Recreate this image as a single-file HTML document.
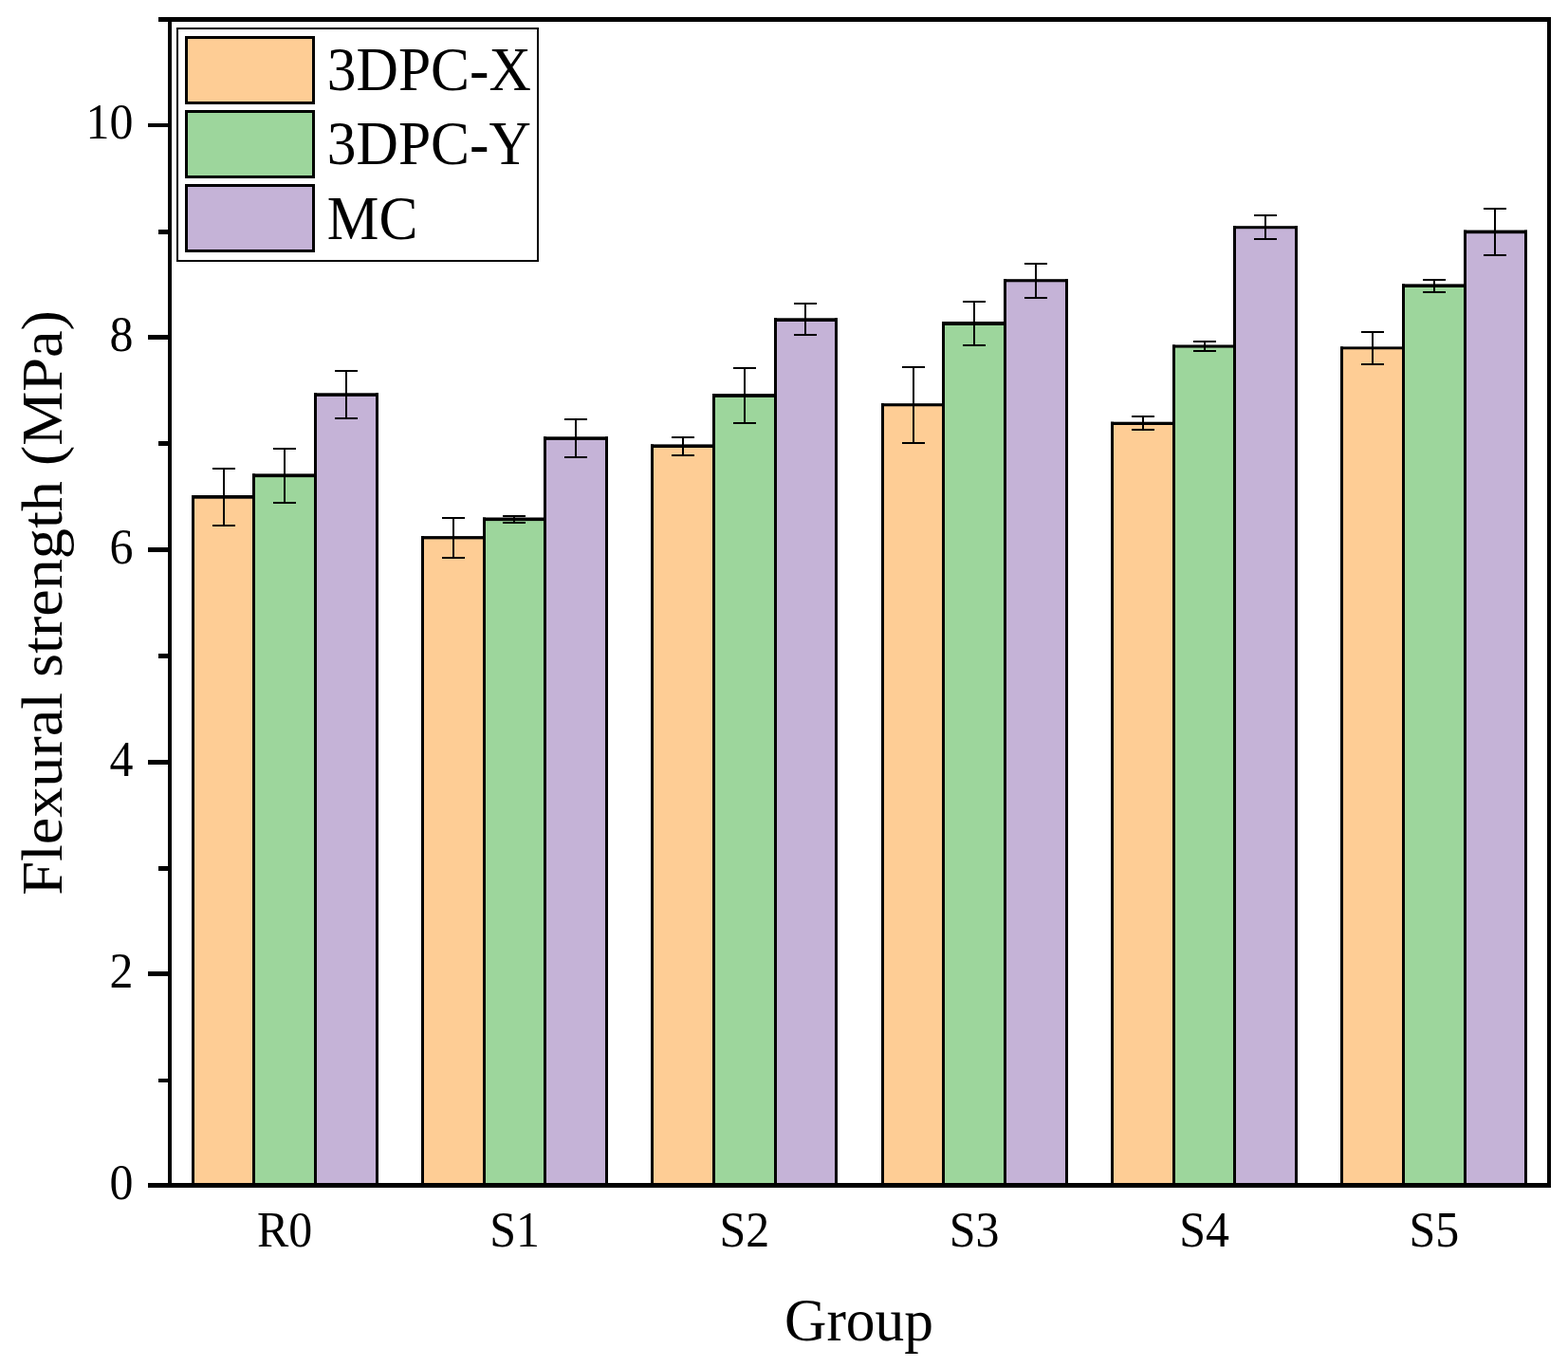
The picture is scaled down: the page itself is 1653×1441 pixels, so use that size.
<!DOCTYPE html><html><head><meta charset="utf-8"><title>Flexural strength</title>
<style>html,body{margin:0;padding:0;background:#fff;}body{width:1653px;height:1441px;overflow:hidden;}svg{display:block;}text{font-family:"Liberation Serif","Times New Roman",serif;fill:#000;}</style></head><body>
<svg width="1653" height="1441" viewBox="0 0 1653 1441">
<rect x="0" y="0" width="1653" height="1441" fill="#fff"/>
<rect x="203.50" y="525.20" width="64.00" height="724.30" fill="#FECD95"/>
<rect x="267.50" y="502.60" width="65.00" height="746.90" fill="#9DD69C"/>
<rect x="332.50" y="417.40" width="65.00" height="832.10" fill="#C5B3D7"/>
<rect x="202.00" y="522.00" width="3" height="727.50" fill="#000"/>
<rect x="266.00" y="499.40" width="3" height="750.10" fill="#000"/>
<rect x="331.00" y="414.30" width="3" height="835.20" fill="#000"/>
<rect x="396.00" y="414.30" width="3" height="835.20" fill="#000"/>
<rect x="202.00" y="522.00" width="67.00" height="3.70" fill="#000"/>
<rect x="266.00" y="499.40" width="68.00" height="3.70" fill="#000"/>
<rect x="331.00" y="414.30" width="68.00" height="3.60" fill="#000"/>
<rect x="445.50" y="567.90" width="65.00" height="681.60" fill="#FECD95"/>
<rect x="510.50" y="548.60" width="64.00" height="700.90" fill="#9DD69C"/>
<rect x="574.50" y="463.40" width="65.00" height="786.10" fill="#C5B3D7"/>
<rect x="444.00" y="565.10" width="3" height="684.40" fill="#000"/>
<rect x="509.00" y="545.50" width="3" height="704.00" fill="#000"/>
<rect x="573.00" y="460.30" width="3" height="789.20" fill="#000"/>
<rect x="638.00" y="460.30" width="3" height="789.20" fill="#000"/>
<rect x="444.00" y="565.10" width="68.00" height="3.30" fill="#000"/>
<rect x="509.00" y="545.50" width="67.00" height="3.60" fill="#000"/>
<rect x="573.00" y="460.30" width="68.00" height="3.60" fill="#000"/>
<rect x="687.50" y="471.50" width="65.00" height="778.00" fill="#FECD95"/>
<rect x="752.50" y="418.40" width="65.00" height="831.10" fill="#9DD69C"/>
<rect x="817.50" y="338.50" width="64.00" height="911.00" fill="#C5B3D7"/>
<rect x="686.00" y="468.40" width="3" height="781.10" fill="#000"/>
<rect x="751.00" y="415.10" width="3" height="834.40" fill="#000"/>
<rect x="816.00" y="335.30" width="3" height="914.20" fill="#000"/>
<rect x="880.00" y="335.30" width="3" height="914.20" fill="#000"/>
<rect x="686.00" y="468.40" width="68.00" height="3.60" fill="#000"/>
<rect x="751.00" y="415.10" width="68.00" height="3.80" fill="#000"/>
<rect x="816.00" y="335.30" width="67.00" height="3.70" fill="#000"/>
<rect x="930.50" y="427.80" width="64.00" height="821.70" fill="#FECD95"/>
<rect x="994.50" y="342.50" width="65.00" height="907.00" fill="#9DD69C"/>
<rect x="1059.50" y="296.80" width="65.00" height="952.70" fill="#C5B3D7"/>
<rect x="929.00" y="425.20" width="3" height="824.30" fill="#000"/>
<rect x="993.00" y="339.00" width="3" height="910.50" fill="#000"/>
<rect x="1058.00" y="294.20" width="3" height="955.30" fill="#000"/>
<rect x="1123.00" y="294.20" width="3" height="955.30" fill="#000"/>
<rect x="929.00" y="425.20" width="67.00" height="3.10" fill="#000"/>
<rect x="993.00" y="339.00" width="68.00" height="4.00" fill="#000"/>
<rect x="1058.00" y="294.20" width="68.00" height="3.10" fill="#000"/>
<rect x="1172.50" y="447.50" width="65.00" height="802.00" fill="#FECD95"/>
<rect x="1237.50" y="366.10" width="64.00" height="883.40" fill="#9DD69C"/>
<rect x="1301.50" y="240.70" width="65.00" height="1008.80" fill="#C5B3D7"/>
<rect x="1171.00" y="444.70" width="3" height="804.80" fill="#000"/>
<rect x="1236.00" y="363.50" width="3" height="886.00" fill="#000"/>
<rect x="1300.00" y="238.20" width="3" height="1011.30" fill="#000"/>
<rect x="1365.00" y="238.20" width="3" height="1011.30" fill="#000"/>
<rect x="1171.00" y="444.70" width="68.00" height="3.30" fill="#000"/>
<rect x="1236.00" y="363.50" width="67.00" height="3.10" fill="#000"/>
<rect x="1300.00" y="238.20" width="68.00" height="3.00" fill="#000"/>
<rect x="1414.50" y="367.80" width="65.00" height="881.70" fill="#FECD95"/>
<rect x="1479.50" y="302.50" width="65.00" height="947.00" fill="#9DD69C"/>
<rect x="1544.50" y="245.70" width="64.00" height="1003.80" fill="#C5B3D7"/>
<rect x="1413.00" y="365.40" width="3" height="884.10" fill="#000"/>
<rect x="1478.00" y="299.40" width="3" height="950.10" fill="#000"/>
<rect x="1543.00" y="242.60" width="3" height="1006.90" fill="#000"/>
<rect x="1607.00" y="242.60" width="3" height="1006.90" fill="#000"/>
<rect x="1413.00" y="365.40" width="68.00" height="2.90" fill="#000"/>
<rect x="1478.00" y="299.40" width="68.00" height="3.60" fill="#000"/>
<rect x="1543.00" y="242.60" width="67.00" height="3.60" fill="#000"/>
<g stroke="#000" stroke-width="2" fill="none">
<path d="M236.00 494.00V554.00M224.00 494.00H248.00M224.00 554.00H248.00"/>
<path d="M300.00 473.00V530.00M288.00 473.00H312.00M288.00 530.00H312.00"/>
<path d="M365.00 391.00V441.00M353.00 391.00H377.00M353.00 441.00H377.00"/>
<path d="M478.00 546.00V588.00M466.00 546.00H490.00M466.00 588.00H490.00"/>
<path d="M542.00 544.00V551.00M530.00 544.00H554.00M530.00 551.00H554.00"/>
<path d="M607.00 442.00V482.00M595.00 442.00H619.00M595.00 482.00H619.00"/>
<path d="M720.00 461.00V480.00M708.00 461.00H732.00M708.00 480.00H732.00"/>
<path d="M785.00 388.00V446.00M773.00 388.00H797.00M773.00 446.00H797.00"/>
<path d="M849.00 320.00V353.00M837.00 320.00H861.00M837.00 353.00H861.00"/>
<path d="M963.00 387.00V467.00M951.00 387.00H975.00M951.00 467.00H975.00"/>
<path d="M1027.00 318.00V364.00M1015.00 318.00H1039.00M1015.00 364.00H1039.00"/>
<path d="M1092.00 278.00V314.00M1080.00 278.00H1104.00M1080.00 314.00H1104.00"/>
<path d="M1205.00 439.00V453.00M1193.00 439.00H1217.00M1193.00 453.00H1217.00"/>
<path d="M1270.00 360.00V370.00M1258.00 360.00H1282.00M1258.00 370.00H1282.00"/>
<path d="M1334.00 227.00V252.00M1322.00 227.00H1346.00M1322.00 252.00H1346.00"/>
<path d="M1447.00 350.00V384.00M1435.00 350.00H1459.00M1435.00 384.00H1459.00"/>
<path d="M1512.00 295.00V308.00M1500.00 295.00H1524.00M1500.00 308.00H1524.00"/>
<path d="M1576.00 220.00V269.00M1564.00 220.00H1588.00M1564.00 269.00H1588.00"/>
</g>
<g fill="#000">
<rect x="177" y="18" width="4" height="1234"/>
<rect x="1631" y="18" width="4" height="1234"/>
<rect x="167" y="18" width="1468" height="5"/>
<rect x="156" y="1247" width="1479" height="5"/>
<rect x="167" y="1137" width="11" height="4"/>
<rect x="156" y="1024" width="22" height="5"/>
<rect x="167" y="913" width="11" height="5"/>
<rect x="156" y="801" width="22" height="5"/>
<rect x="167" y="689" width="11" height="5"/>
<rect x="156" y="577" width="22" height="5"/>
<rect x="167" y="465" width="11" height="5"/>
<rect x="156" y="353" width="22" height="5"/>
<rect x="167" y="242" width="11" height="5"/>
<rect x="156" y="130" width="22" height="4"/>
</g>
<text transform="translate(140.4 1263.50) scale(0.960 1)" text-anchor="end" font-size="52">0</text>
<text transform="translate(140.4 1040.50) scale(0.960 1)" text-anchor="end" font-size="52">2</text>
<text transform="translate(140.4 817.50) scale(0.960 1)" text-anchor="end" font-size="52">4</text>
<text transform="translate(140.4 593.50) scale(0.960 1)" text-anchor="end" font-size="52">6</text>
<text transform="translate(140.4 369.50) scale(0.960 1)" text-anchor="end" font-size="52">8</text>
<text transform="translate(140.4 146.00) scale(0.960 1)" text-anchor="end" font-size="52">10</text>
<text transform="translate(300.17 1314) scale(0.960 1)" text-anchor="middle" font-size="52">R0</text>
<text transform="translate(542.50 1314) scale(0.960 1)" text-anchor="middle" font-size="52">S1</text>
<text transform="translate(784.83 1314) scale(0.960 1)" text-anchor="middle" font-size="52">S2</text>
<text transform="translate(1027.17 1314) scale(0.960 1)" text-anchor="middle" font-size="52">S3</text>
<text transform="translate(1269.50 1314) scale(0.960 1)" text-anchor="middle" font-size="52">S4</text>
<text transform="translate(1511.83 1314) scale(0.960 1)" text-anchor="middle" font-size="52">S5</text>
<text transform="translate(905.5 1412.8) scale(0.960 1)" text-anchor="middle" font-size="64">Group</text>
<text transform="translate(64.8 943.8) rotate(-90) scale(1 0.96)" font-size="64.2">Flexural strength (MPa)</text>
<rect x="187" y="30" width="380" height="245" fill="#fff" stroke="#000" stroke-width="2"/>
<rect x="196.5" y="39.50" width="134" height="69" fill="#FECD95" stroke="#000" stroke-width="3"/>
<text transform="translate(344.8 94.70) scale(0.938 1)" font-size="65.5">3DPC-X</text>
<rect x="196.5" y="117.50" width="134" height="69" fill="#9DD69C" stroke="#000" stroke-width="3"/>
<text transform="translate(344.8 172.80) scale(0.938 1)" font-size="65.5">3DPC-Y</text>
<rect x="196.5" y="195.50" width="134" height="69" fill="#C5B3D7" stroke="#000" stroke-width="3"/>
<text transform="translate(344.8 251.50) scale(0.938 1)" font-size="65.5">MC</text>
</svg></body></html>
